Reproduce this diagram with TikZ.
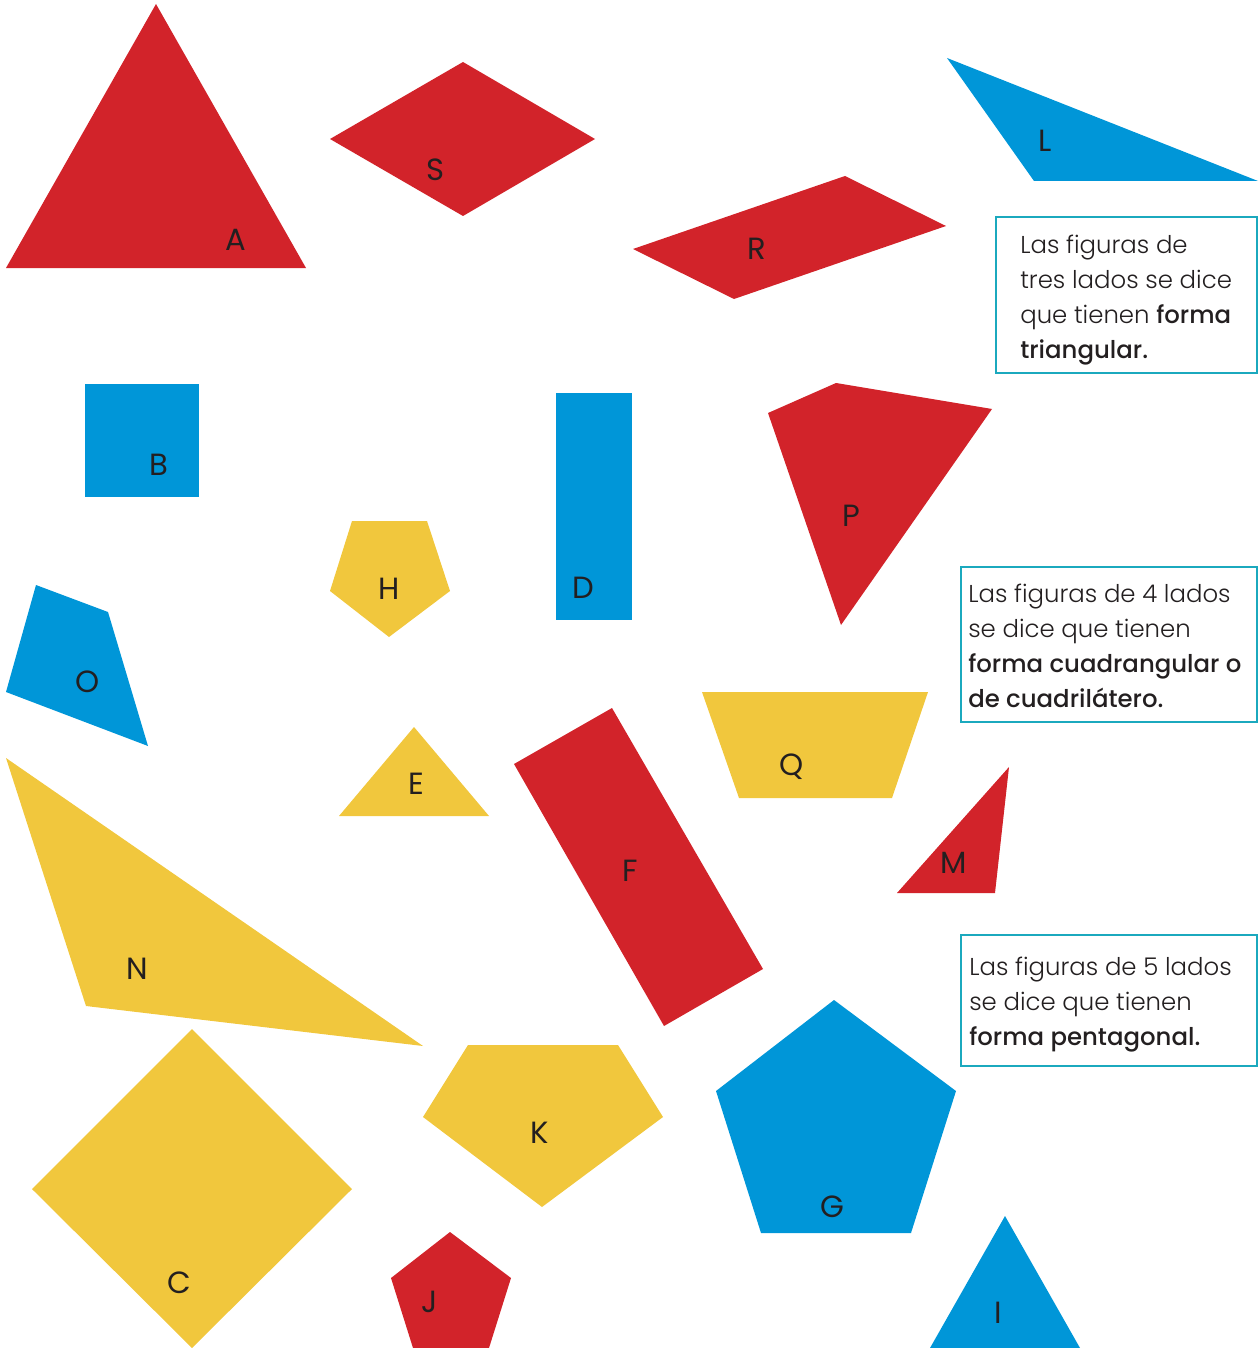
\documentclass[tikz,border=0pt]{standalone}
\usepackage{fontspec}
\IfFontExistsTF{Poppins Light}
  {\IfFontExistsTF{Poppins Medium}
    {\setmainfont{Poppins Light}[BoldFont=Poppins Medium]}
    {\setmainfont{Poppins Light}[BoldFont=Poppins]}}
  {\setmainfont{Poppins}}
\newfontfamily\labelfont{Poppins}
\definecolor{figred}{HTML}{D2232A}
\definecolor{figblue}{HTML}{0096D8}
\definecolor{figyellow}{HTML}{F1C73D}
\definecolor{boxteal}{HTML}{1BA9BE}
\definecolor{ink}{HTML}{231F20}

\begin{document}
\begin{tikzpicture}[x=0.75pt, y=-0.75pt,
	redfig/.style={fill=figred}, bluefig/.style={fill=figblue}, yellowfig/.style={fill=figyellow},
	lbl/.style={inner sep=0pt, text=ink, font=\labelfont\fontsize{23}{23}\selectfont},
	infobox/.style={draw=boxteal, line width=2pt},
	infotext/.style={anchor=base west, inner sep=0pt, text=ink, font=\fontsize{18.3}{22}\selectfont}]
	\useasboundingbox (0,0) rectangle (1258,1348);
	% triangles
	\fill[redfig] (156,4) -- (306,268) -- (6,268) -- cycle;
	\fill[bluefig] (947,58) -- (1258,181) -- (1034,181) -- cycle;
	\fill[yellowfig] (414,727) -- (489,816) -- (339,816) -- cycle;
	\fill[redfig] (1009,767) -- (995,893) -- (897,893) -- cycle;
	\fill[yellowfig] (6,758) -- (423,1046) -- (86,1006) -- cycle;
	\fill[bluefig] (1005,1216) -- (1080,1348) -- (930,1348) -- cycle;
	% quadrilaterals
	\fill[redfig] (330,139) -- (463,62) -- (595,139) -- (463,216) -- cycle;
	\fill[redfig] (633,249) -- (845,176) -- (946,226) -- (734,299) -- cycle;
	\fill[bluefig] (85,384) rectangle (199,497);
	\fill[bluefig] (556,393) rectangle (632,620);
	\fill[redfig] (768,413) -- (836,383) -- (992,409) -- (841,625) -- cycle;
	\fill[bluefig] (36,585) -- (108,612) -- (148,746) -- (6,692) -- cycle;
	\fill[redfig] (514,764) -- (612,708) -- (763,969) -- (664,1026) -- cycle;
	\fill[yellowfig] (702,692) -- (928,692) -- (892,798) -- (739,798) -- cycle;
	\fill[yellowfig] (192,1029) -- (352,1189) -- (192,1348) -- (32,1189) -- cycle;
	% pentagons
	\fill[yellowfig] (352,521) -- (427,521) -- (450,591) -- (389,637) -- (330,591) -- cycle;
	\fill[yellowfig] (468,1045) -- (618,1045) -- (663,1117) -- (542,1207) -- (423,1117) -- cycle;
	\fill[bluefig] (834,1000) -- (956,1091) -- (911,1233) -- (761,1233) -- (716,1091) -- cycle;
	\fill[redfig] (450,1232) -- (511,1278) -- (489,1348) -- (413,1348) -- (391,1278) -- cycle;
	% letters
	\foreach \name/\x/\y in {A/236/240, S/435/170, L/1045/141, R/757/249, B/159/465,
		D/583/588, P/851/516, H/389/589, O/88/682, E/416/784, F/630/871, Q/792/767,
		M/954/863, N/137/969, K/540/1133, G/832/1207, C/179/1283, J/430/1302, I/998/1313}
		\node[lbl] (lbl\name) at (\x,\y) {\name};
	% boxes
	\draw[infobox] (996,217) rectangle (1257,373);
	\draw[infobox] (961,567) rectangle (1257,722);
	\draw[infobox] (961,935) rectangle (1257,1066);
	\foreach \ln [count=\i] in {{Las figuras de}, {tres lados se dice}, {que tienen \textbf{forma}}, {\textbf{triangular.}}}
		\node[infotext] (tri\i) at (1020,218+35*\i) {\ln};
	\foreach \ln [count=\i] in {{Las figuras de 4 lados}, {se dice que tienen}, {\textbf{forma cuadrangular o}}, {\textbf{de cuadrilátero.}}}
		\node[infotext] (cuad\i) at (968,567+35*\i) {\ln};
	\foreach \ln [count=\i] in {{Las figuras de 5 lados}, {se dice que tienen}, {\textbf{forma pentagonal.}}}
		\node[infotext] (pent\i) at (969,940+35*\i) {\ln};
\end{tikzpicture}
\end{document}
